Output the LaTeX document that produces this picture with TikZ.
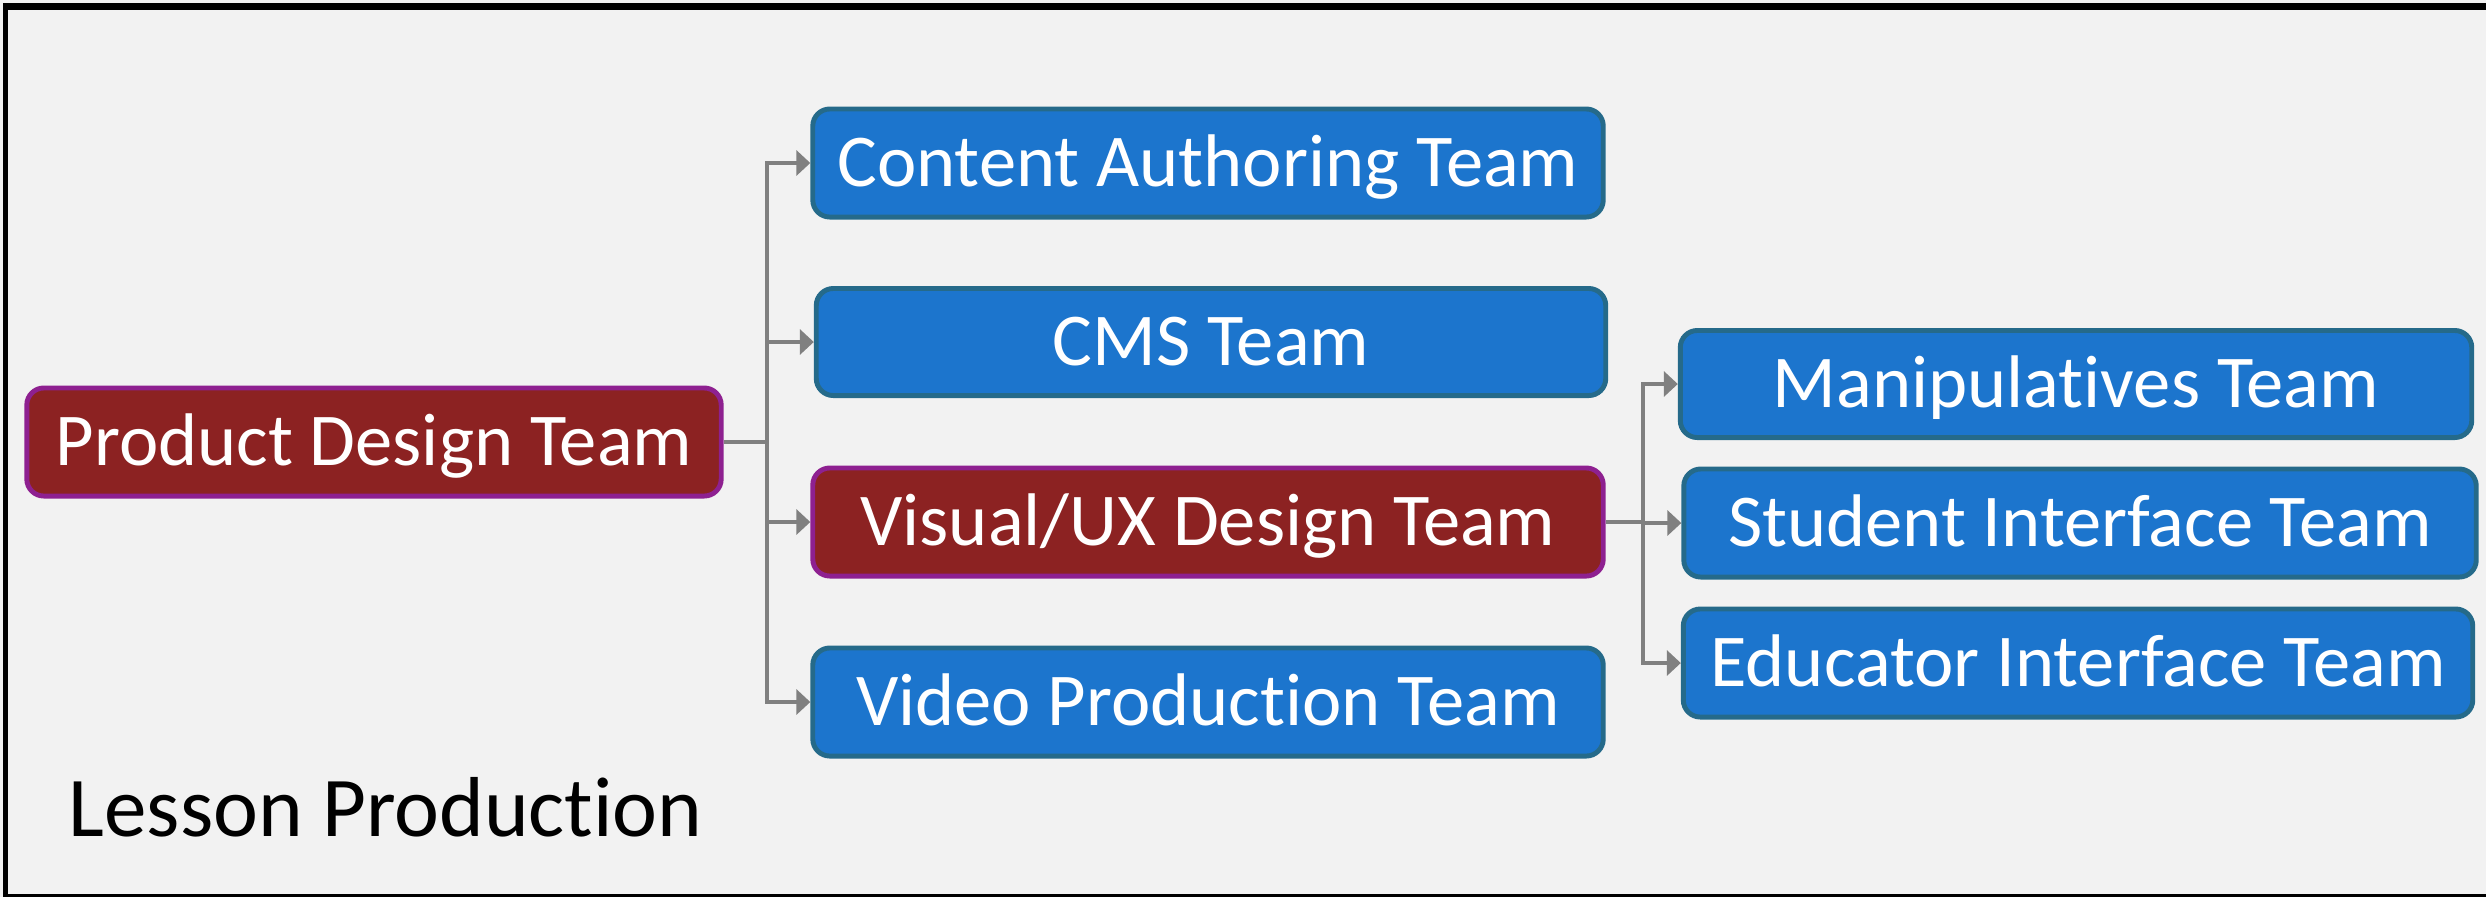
\documentclass[tikz,border=0pt]{standalone}
\usepackage{fontspec}
\setmainfont{Carlito}[Ligatures=NoCommon]
\usetikzlibrary{arrows.meta}
\definecolor{pagebg}{HTML}{F2F2F2}
\definecolor{teamblue}{HTML}{1C75CD}
\definecolor{teamblueline}{HTML}{256A8A}
\definecolor{leadred}{HTML}{8C2222}
\definecolor{leadredline}{HTML}{8E2090}
\definecolor{linkgray}{HTML}{808080}
\tikzset{
  team/.style={draw=teamblueline, fill=teamblue, line width=1.4pt,
    rounded corners=0.17cm, text=white, inner sep=0pt,
    font=\fontsize{21.2}{25}\selectfont, text height=13.4pt, text depth=0pt},
  lead/.style={team, draw=leadredline, fill=leadred},
  link/.style={draw=linkgray, line width=1.1pt},
  linkarrow/.style={link, -{Triangle[length=0.14cm,width=0.25cm]}},
}
\begin{document}
\begin{tikzpicture}[x=0.01cm, y=-0.01cm]
  % canvas and frame
  \useasboundingbox (0,0) rectangle (2486,896);
  \fill[pagebg] (-5,-5) rectangle (2495,905);
  \fill[black] (3,3) rectangle (2495,10);
  \fill[black] (3,3) rectangle (8,905);
  \fill[black] (3,894) rectangle (2495,905);

  % team boxes
  \node[lead, minimum width=6.94cm, minimum height=1.08cm] (pd) at (374,442) {Product Design Team};
  \node[team, minimum width=7.90cm, minimum height=1.08cm] (ca) at (1208,163) {Content Authoring Team};
  \node[team, minimum width=7.89cm, minimum height=1.07cm] (cms) at (1211,342) {CMS Team};
  \node[lead, minimum width=7.90cm, minimum height=1.08cm] (vx) at (1208,522) {Visual/UX Design Team};
  \node[team, minimum width=7.90cm, minimum height=1.08cm] (vp) at (1208,702) {Video Production Team};
  \node[team, minimum width=7.91cm, minimum height=1.07cm] (mp) at (2076,384) {Manipulatives Team};
  \node[team, minimum width=7.92cm, minimum height=1.08cm] (si) at (2080,523) {Student Interface Team};
  \node[team, minimum width=7.89cm, minimum height=1.08cm] (ei) at (2078,663) {Educator Interface Team};

  % caption
  \node[anchor=base west, inner sep=0pt, font=\fontsize{24.2}{29}\selectfont] (cap) at (68,836) {Lesson Production};

  % connectors from the product design team
  \coordinate (t1) at (767,442);
  \draw[link] (pd.east) -- (t1);
  \foreach \n in {ca,cms,vx,vp} \draw[linkarrow] (t1) |- (\n.west);

  % connectors from the visual/UX design team
  \coordinate (t2) at (1643,522);
  \draw[link] (vx.east) -- (t2);
  \foreach \n in {mp,si,ei} \draw[linkarrow] (t2) |- (\n.west);
\end{tikzpicture}
\end{document}
